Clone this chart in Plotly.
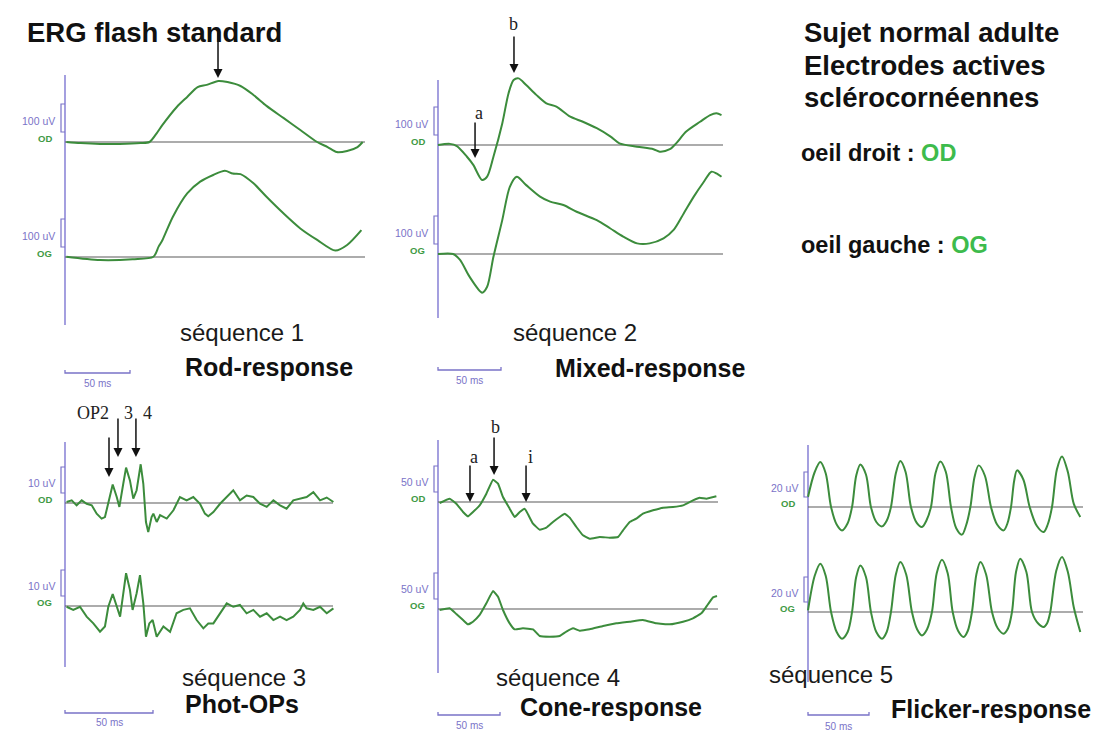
import plotly.graph_objects as go

W, H = 1093, 731

# ---------------- data: time (ms) and amplitude (uV) ----------------
# sequence 1 : rod response
rod_od_t = [1, 12, 27, 42, 58, 65, 70.5, 75, 86, 94, 102, 109, 118, 125, 135, 145, 155, 168, 181, 194, 202, 209, 217, 225, 229]
rod_od_uv = [0, -4, -7, -7, -4, 0, 31, 61, 125, 161, 196, 204, 218, 214, 200, 168, 129, 86, 43, 0, -18, -36, -32, -18, 0]
rod_og_t = [1, 27, 52, 68, 72, 75, 83, 94, 104, 114, 123, 129, 135, 145, 155, 168, 181, 194, 208, 217, 228]
rod_og_uv = [1, -11, -8, 1, 37, 61, 144, 227, 269, 293, 308, 298, 296, 263, 215, 156, 102, 61, 23, 43, 96]

# sequence 2 : mixed response
mix_od_t = [0, 9.5, 15, 23, 28, 35, 39, 44, 51, 56, 60, 64, 70, 78, 86, 94, 105, 115, 126, 137, 144, 158, 171, 176, 184, 189, 197, 208, 216, 221, 225]
mix_od_uv = [0, 4, -4, -42, -71, -125, -113, -42, 77, 185, 232, 238, 214, 179, 149, 137, 101, 83, 60, 30, 6, -6, -15, -24, -15, 6, 48, 83, 107, 113, 107]
mix_og_t = [0, 12, 17.5, 25, 35, 39, 44, 51, 57, 62.5, 70, 81, 89, 99.5, 110, 126, 136.5, 147, 158, 168, 179, 187, 195, 203, 211, 217, 221, 225]
mix_og_uv = [0, 0, -21, -81, -138, -117, -10, 121, 240, 276, 246, 205, 187, 175, 151, 121, 92, 62, 38, 38, 56, 86, 145, 205, 258, 294, 288, 276]

# sequence 3 : photopic oscillatory potentials
ops_od_t = [0.9, 3.8, 6.6, 9.5, 12.3, 15.2, 18.0, 20.8, 22.7, 24.6, 27.1, 29.4, 30.9, 33.1, 34.7, 36.9, 38.8, 40.7, 43.0, 44.5, 46.0, 47.3, 49.2, 50.2, 52.1, 54.0, 57.8, 61.6, 65.3, 69.1, 72.9, 76.7, 79.5, 81.4, 84.3, 88.1, 91.9, 95.6, 99.4, 103.2, 107.0, 110.8, 114.6, 118.4, 122.2, 125.9, 129.7, 133.5, 137.3, 141.1, 144.9, 148.7, 152.5]
ops_od_uv = [0.4, 1.0, -0.9, 1.0, -0.3, -0.9, -4.1, -6.0, -5.4, 0.4, 7.1, 2.3, -1.5, 7.4, 13.6, 8.7, 1.7, 4.9, 14.9, 7.4, -7.3, -11.2, -5.4, -4.1, -7.3, -4.7, -6.0, -2.8, 2.3, 1.0, 2.3, -0.3, -4.1, -5.1, -3.5, -0.3, 2.3, 4.9, 1.0, 2.9, 2.3, -0.3, -1.5, 1.0, -0.9, -2.2, 1.0, 1.7, 2.3, 4.2, 1.0, 2.1, 0.4]
ops_og_t = [0.9, 4.7, 8.5, 12.3, 16.1, 19.9, 22.7, 24.6, 27.1, 29.4, 31.3, 34.7, 36.9, 38.4, 40.7, 42.6, 44.5, 46.0, 47.9, 49.8, 52.1, 55.9, 59.7, 63.4, 67.2, 71.0, 74.8, 78.6, 81.4, 84.3, 88.1, 91.9, 95.6, 99.4, 103.2, 107.0, 110.8, 114.6, 118.4, 122.2, 125.9, 129.7, 133.5, 135.4, 137.3, 141.1, 144.9, 148.7, 152.5]
ops_og_uv = [-0.3, -1.5, -0.3, -4.1, -6.7, -9.9, -7.9, -0.3, 4.6, -0.3, -4.1, 12.6, 6.2, -1.5, 4.9, 11.9, 1.0, -11.8, -6.7, -5.4, -11.8, -7.9, -9.9, -2.8, -1.5, -0.9, -5.4, -8.6, -6.7, -6.7, -2.8, 1.0, -0.3, 0.4, -2.8, -1.5, -4.1, -2.8, -5.4, -4.1, -5.4, -4.1, -1.5, 1.0, -0.9, -1.5, -0.3, -2.8, -0.9]

# sequence 4 : cone response
cone_od_t = [1.3, 9.4, 14.8, 20.2, 24.2, 28.2, 33.6, 39.0, 44.4, 48.4, 52.4, 57.8, 61.8, 65.9, 69.9, 72.6, 76.6, 82.0, 87.4, 92.7, 98.1, 102.2, 106.2, 111.6, 116.9, 122.3, 130.4, 138.4, 145.2, 149.2, 154.6, 159.9, 165.3, 173.4, 181.5, 189.5, 197.6, 205.6, 211.0, 216.4, 224.5]
cone_od_uv = [-1.9, 6.4, -3.2, -19.2, -27.6, -19.2, -6.4, 16.0, 42.9, 35.3, 9.6, -12.8, -28.8, -19.2, -12.8, -23.7, -41.7, -53.2, -49.4, -38.5, -28.8, -22.4, -30.1, -48.1, -64.1, -70.5, -67.3, -68.6, -67.3, -54.5, -38.5, -32.1, -22.4, -16.0, -10.9, -9.6, -6.4, 3.2, 8.3, 6.4, 10.9]
cone_og_t = [1.3, 9.4, 14.8, 20.2, 24.2, 28.2, 33.6, 39.0, 44.4, 48.4, 52.4, 57.8, 61.8, 68.5, 76.6, 82.0, 90.1, 98.1, 103.5, 108.9, 114.2, 122.3, 133.1, 143.8, 154.6, 165.3, 176.1, 186.8, 197.6, 205.6, 212.4, 216.4, 221.8, 225.0]
cone_og_uv = [-1.9, 1.3, -9.6, -21.2, -29.5, -24.4, -11.5, 10.9, 34.6, 23.7, -1.9, -27.6, -39.1, -37.2, -39.1, -51.9, -53.2, -51.9, -43.6, -37.2, -41.7, -39.1, -32.7, -27.6, -24.4, -21.2, -27.6, -29.5, -24.4, -17.9, -8.3, 4.5, 22.4, 25.0]

# sequence 5 : 30 Hz flicker (peaks, shoulders, crossings and troughs)
flk_od_t = [0, 5.5, 10.1, 14.5, 18.9, 23.5, 27.9, 32.5, 36.1, 39.5, 42.9, 47.5, 51.6, 56.0, 60.7, 64.5, 68.0, 72.0, 75.7, 80.0, 84.4, 89.0, 93.4, 97.0, 100.8, 104.5, 108.5, 113.0, 117.2, 121.5, 126.2, 129.5, 133.1, 136.5, 139.9, 145.0, 150.0, 155.0, 160.4, 163.5, 166.4, 169.0, 171.3, 176.5, 181.7, 187.5, 193.2, 196.5, 200.0, 204.0, 208.2, 213.0, 217.8, 223.2]
flk_od_uv = [8.0, 28.0, 36.0, 27.0, 0, -14.0, -18.7, -13.0, 0, 25.0, 34.1, 26.0, 0, -12.0, -15.5, -11.0, 0, 27.0, 36.8, 28.0, 0, -12.5, -16.0, -11.0, 0, 27.0, 36.5, 28.0, 0, -17.0, -22.1, -15.0, 0, 24.0, 33.3, 25.0, 0, -14.0, -18.7, -13.0, 0, 21.0, 29.3, 22.0, 0, -15.0, -20.0, -14.0, 0, 30.0, 40.5, 28.0, 2.7, -8.0]
flk_og_t = [0, 5.5, 10.1, 14.5, 18.9, 23.5, 27.9, 32.5, 36.1, 39.5, 42.9, 47.5, 51.6, 56.0, 60.7, 64.5, 68.0, 72.0, 75.7, 80.5, 85.2, 89.5, 93.4, 97.5, 101.6, 105.5, 109.8, 114.5, 118.6, 123.0, 127.6, 131.0, 134.4, 138.0, 141.3, 146.0, 150.8, 155.5, 160.4, 164.0, 167.2, 170.5, 174.0, 179.0, 183.6, 188.5, 193.2, 196.0, 198.6, 203.5, 208.2, 213.0, 217.8, 223.2]
flk_og_uv = [1.3, 29.0, 38.7, 29.0, 0, -16.0, -21.3, -16.0, 0, 28.0, 37.3, 28.0, 0, -16.0, -21.3, -16.0, 0, 30.0, 40.0, 30.0, 0, -14.0, -18.7, -14.0, 0, 31.0, 41.9, 31.0, 0, -15.0, -20.0, -15.0, 0, 30.0, 40.0, 30.0, 0, -13.0, -17.3, -13.0, 0, 32.0, 42.7, 32.0, 0, -9.0, -12.0, -9.0, 0, 33.0, 44.0, 32.0, 4.0, -16.0]

seq_labels = ["séquence 1", "séquence 2", "séquence 3", "séquence 4", "séquence 5"]
resp_labels = ["Rod-response", "Mixed-response", "Phot-OPs", "Cone-response", "Flicker-response"]
scale_uv = [100, 100, 10, 50, 20]
scale_ms = 50

# ---------------- layout geometry (pixels on the 1093x731 page) ----------------
PANELS = [
    dict(od=(rod_od_t, rod_od_uv), og=(rod_og_t, rod_og_uv), shape="spline", smooth=0.8,
         ax=65, ms=1.30, yod=142, yog=257, uv=0.28, xend=365, top=75, bot=325,
         bar=373, barlab=383, seqpos=(178, 332), namepos=(183, 367)),
    dict(od=(mix_od_t, mix_od_uv), og=(mix_og_t, mix_og_uv), shape="spline", smooth=0.8,
         ax=438, ms=1.26, yod=145, yog=254, uv=0.28, xend=723, top=80, bot=318,
         bar=370, barlab=380, seqpos=(511, 332), namepos=(553, 368)),
    dict(od=(ops_od_t, ops_od_uv), og=(ops_og_t, ops_og_uv), shape="linear", smooth=0,
         ax=65, ms=1.76, yod=503, yog=606, uv=2.6, xend=333, top=442, bot=667,
         bar=713, barlab=722, seqpos=(180, 677), namepos=(183, 704)),
    dict(od=(cone_od_t, cone_od_uv), og=(cone_og_t, cone_og_uv), shape="spline", smooth=0.3,
         ax=438, ms=1.24, yod=502, yog=609, uv=0.52, xend=718, top=440, bot=673,
         bar=715, barlab=725, seqpos=(494, 677), namepos=(518, 707)),
    dict(od=(flk_od_t, flk_od_uv), og=(flk_og_t, flk_og_uv), shape="spline", smooth=0.9,
         ax=808, ms=1.22, yod=507, yog=612, uv=1.25, xend=1083, top=445, bot=682,
         bar=715, barlab=726, seqpos=(767, 674), namepos=(889, 709)),
]

# arrows: (panel, t, uV, tail length px) ; labels: (panel, text, t, uV, dx px, dy px)
ARROWS = [(0, 117.7, 229, 46), (1, 60.3, 257, 37), (1, 29.4, -46, 36),
          (2, 25.0, 10.0, 40), (2, 30.1, 17.7, 39), (2, 40.3, 17.7, 39),
          (3, 25.8, 0, 37), (3, 45.2, 52, 38), (3, 71.0, 0, 37)]
MARKS = [(1, "b", 60.3, 257, 0, -49), (1, "a", 29.4, -46, 4, -45),
         (2, "OP2", 25.0, 10.0, -16, -64), (2, "3", 30.1, 17.7, 11, -44), (2, "4", 40.3, 17.7, 12, -44),
         (3, "a", 25.8, 0, 4, -45), (3, "b", 45.2, 52, 1, -48), (3, "i", 71.0, 0, 4, -45)]

GREEN = "#3c8c3c"
AXIS = "#8e88d8"
SCALE = "#7a73c8"
LABEL_GREEN = "#3f9a45"
SANS = "Liberation Sans, Arial, sans-serif"
SERIF = "Liberation Serif, Times New Roman, serif"

fig = go.Figure()
shapes, annotations = [], []
layout_axes = {}

for i, p in enumerate(PANELS):
    n = i + 1
    xr = "x" if n == 1 else f"x{n}"
    yr = "y" if n == 1 else f"y{n}"
    tx = (lambda px, p=p: (px - p["ax"]) / p["ms"])
    ty = (lambda py, p=p: (p["yod"] - py) / p["uv"])
    off = ty(p["yog"])
    layout_axes["xaxis" if n == 1 else f"xaxis{n}"] = dict(
        domain=[0, 1], range=[tx(0), tx(W)], visible=False, fixedrange=True, anchor=yr)
    layout_axes["yaxis" if n == 1 else f"yaxis{n}"] = dict(
        domain=[0, 1], range=[ty(H), ty(0)], visible=False, fixedrange=True, anchor=xr)

    line = dict(color=GREEN, width=2, shape=p["shape"])
    if p["shape"] == "spline":
        line["smoothing"] = p["smooth"]
    fig.add_trace(go.Scatter(x=p["od"][0], y=p["od"][1], mode="lines", line=line,
                             xaxis=xr, yaxis=yr, hoverinfo="skip", showlegend=False))
    fig.add_trace(go.Scatter(x=p["og"][0], y=[v + off for v in p["og"][1]], mode="lines", line=line,
                             xaxis=xr, yaxis=yr, hoverinfo="skip", showlegend=False))

    ref = dict(xref=xr, yref=yr)
    # vertical axis line
    shapes.append(dict(type="line", x0=0, x1=0, y0=ty(p["top"]), y1=ty(p["bot"]),
                       line=dict(color=AXIS, width=1.6), layer="below", **ref))
    # baselines
    for base in (0, off):
        shapes.append(dict(type="line", x0=0, x1=tx(p["xend"]), y0=base, y1=base,
                           line=dict(color="#5a5a5a", width=1.2), layer="below", **ref))
    # amplitude brackets
    s = scale_uv[i]
    lo = 10 / p["uv"]
    dx = 4 / p["ms"]
    for base, tag in ((0, "OD"), (off, "OG")):
        b0, b1 = base + lo, base + lo + s
        shapes.append(dict(type="path",
                           path=f"M 0,{b1} L {-dx},{b1} L {-dx},{b0} L 0,{b0}",
                           line=dict(color=SCALE, width=1.2), **ref))
        annotations.append(dict(text=f"{s} uV", x=tx(p["ax"] - 8), y=base + lo + s / 2 - 3 / p["uv"],
                                xanchor="right", yanchor="middle", showarrow=False,
                                font=dict(family=SANS, size=10.5, color=SCALE), **ref))
        annotations.append(dict(text=f"<b>{tag}</b>", x=tx(p["ax"] - 11), y=base + 4 / p["uv"],
                                xanchor="right", yanchor="middle", showarrow=False,
                                font=dict(family=SANS, size=9.5, color=LABEL_GREEN), **ref))
    # time scale bar
    yb, yb2 = ty(p["bar"]), ty(p["bar"] - 3)
    shapes.append(dict(type="path", path=f"M 0,{yb2} L 0,{yb} L {scale_ms},{yb} L {scale_ms},{yb2}",
                       line=dict(color=SCALE, width=1.3), **ref))
    annotations.append(dict(text=f"{scale_ms} ms", x=scale_ms / 2, y=ty(p["barlab"]),
                            xanchor="center", yanchor="middle", showarrow=False,
                            font=dict(family=SANS, size=10, color=SCALE), **ref))
    # panel titles
    sx, sy = p["seqpos"]
    annotations.append(dict(text=seq_labels[i], x=sx / W, y=1 - sy / H, xref="paper", yref="paper",
                            xanchor="left", yanchor="middle", showarrow=False,
                            font=dict(family=SANS, size=24, color="#1a1a1a")))
    nx, ny = p["namepos"]
    annotations.append(dict(text=f"<b>{resp_labels[i]}</b>", x=nx / W, y=1 - ny / H, xref="paper",
                            yref="paper", xanchor="left", yanchor="middle", showarrow=False,
                            font=dict(family=SANS, size=25, color="#111111")))

def axref(i):
    n = i + 1
    return ("x" if n == 1 else f"x{n}"), ("y" if n == 1 else f"y{n}")

for (i, t, v, length) in ARROWS:
    xr, yr = axref(i)
    annotations.append(dict(text="", x=t, y=v, xref=xr, yref=yr, showarrow=True,
                            ax=0, ay=-length, arrowhead=2, arrowsize=1.2, arrowwidth=1.5,
                            arrowcolor="#111111", standoff=0, borderpad=0,
                            font=dict(size=1)))
for (i, txt, t, v, dxp, dyp) in MARKS:
    xr, yr = axref(i)
    annotations.append(dict(text=txt, x=t, y=v, xref=xr, yref=yr, showarrow=False,
                            xshift=dxp, yshift=-dyp, xanchor="center", yanchor="middle",
                            font=dict(family=SERIF, size=18, color="#222222")))

# header texts
def paper_text(txt, x, y, size, color="#111111"):
    annotations.append(dict(text=txt, x=x / W, y=1 - y / H, xref="paper", yref="paper",
                            xanchor="left", yanchor="middle", showarrow=False,
                            font=dict(family=SANS, size=size, color=color)))

paper_text("<b>ERG flash standard</b>", 25, 32, 27.5)
paper_text("<b>Sujet normal adulte</b>", 802, 32, 27.5)
paper_text("<b>Electrodes actives</b>", 802, 65, 27.5)
paper_text("<b>sclérocornéennes</b>", 802, 98, 27.5)
paper_text('<b>oeil droit : <span style="color:#3dbb4c">OD</span></b>', 799, 153, 23.5)
paper_text('<b>oeil gauche : <span style="color:#3dbb4c">OG</span></b>', 799, 245, 23.5)

fig.update_layout(
    width=W, height=H, margin=dict(l=0, r=0, t=0, b=0),
    paper_bgcolor="white", plot_bgcolor="rgba(0,0,0,0)",
    shapes=shapes, annotations=annotations, showlegend=False,
    **layout_axes,
)

fig.write_html("out.html", config={"displayModeBar": False, "staticPlot": True},
               post_script="document.body.style.margin='0';document.body.style.overflow='hidden';")
